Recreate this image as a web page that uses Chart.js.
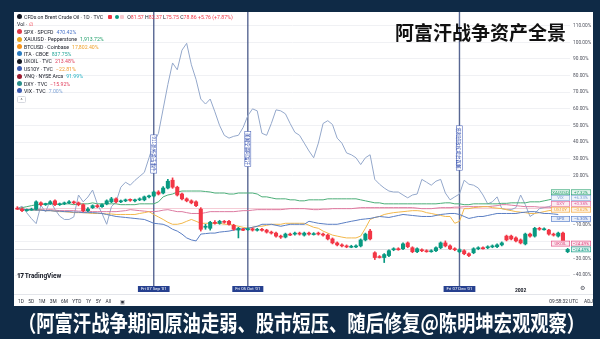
<!DOCTYPE html>
<html lang="zh">
<head>
<meta charset="utf-8">
<script src="https://cdn.jsdelivr.net/npm/chart.js@4.4.1/dist/chart.umd.min.js"></script>
<style>
 html,body{margin:0;padding:0;}
 body{width:600px;height:339px;overflow:hidden;background:#0f2a46;position:relative;font-family:Roboto,"Noto Sans",sans-serif;}
 #panel{position:absolute;left:14px;top:12px;width:579px;height:294px;background:#fff;overflow:hidden;}
 #chart{position:absolute;left:0;top:0;}
 #legend{position:absolute;left:3px;top:1.3px;font-size:5.2px;color:#131722;white-space:nowrap;}
 #legend .row{height:7.4px;display:flex;align-items:center;}
 #legend .ic{display:inline-block;width:5px;height:5px;border-radius:50%;margin-right:2px;flex:none;}
 #legend .v{margin-left:3px;}
 #legend .sq{display:inline-block;width:4px;height:4px;margin-left:5px;flex:none;border-radius:1px;}
 #legend .ohlc b{font-weight:400;color:#f23645;}
 #caret{position:absolute;left:3px;top:84px;width:7px;height:5px;border:0.6px solid #d6d9e0;border-radius:1.5px;font-size:5px;line-height:6px;text-align:center;color:#555;}
 #title{position:absolute;left:381px;top:9px;font-family:"Noto Sans CJK SC";font-weight:700;font-size:19px;line-height:22px;color:#111;white-space:nowrap;}
 #tvlogo{position:absolute;left:3px;top:260px;font-size:6.5px;font-weight:700;color:#131722;white-space:nowrap;}
 #gear{position:absolute;left:566px;top:273px;font-size:6px;line-height:6px;color:#50535e;}
 #toolbar{position:absolute;left:0;top:282px;width:579px;height:12px;border-top:0.6px solid #e3e5ea;font-size:4.8px;color:#2a2e39;}
 #toolbar .l{position:absolute;left:4px;top:3.5px;display:flex;gap:4.4px;}
 #toolbar .r{position:absolute;right:0;top:3.5px;display:flex;gap:6px;}
 #sub{position:absolute;left:18px;top:307px;font-family:"Noto Sans CJK SC";font-weight:700;font-size:22px;line-height:28px;color:#fff;white-space:nowrap;transform-origin:0 0;}
</style>
</head>
<body>
<div id="panel">
 <canvas id="chart" width="579" height="282"></canvas>
 <div id="legend">
  <div class="row"><i class="ic" style="background:#131722"></i><span>CFDs on Brent Crude Oil · 1D · TVC</span><i class="sq" style="background:#f23645"></i><i class="sq" style="background:#089981;border-radius:50%;margin-left:3px"></i><i class="sq" style="background:#f7c9cf;margin-left:1px"></i><span class="ohlc" style="margin-left:3px">O<b>81.57</b> H<b>82.37</b> L<b>75.75</b> C<b>78.86</b> <b>+5.76 (+7.87%)</b></span></div>
  <div class="row"><span>Vol ·</span><span style="color:#f23645;margin-left:2px">∅</span></div>
  <div class="row"><i class="ic" style="background:#e0394a"></i><span>SPX · SPCFD</span><span class="v" style="color:#4a74c9">470.42%</span></div>
  <div class="row"><i class="ic" style="background:#e8a620"></i><span>XAUUSD · Pepperstone</span><span class="v" style="color:#22a06b">1,913.72%</span></div>
  <div class="row"><i class="ic" style="background:#f7931a"></i><span>BTCUSD · Coinbase</span><span class="v" style="color:#f0a12a">17,802.40%</span></div>
  <div class="row"><i class="ic" style="background:#2b7cc0"></i><span>ITA · CBOE</span><span class="v" style="color:#26a69a">837.75%</span></div>
  <div class="row"><i class="ic" style="background:#131722"></i><span>UKOIL · TVC</span><span class="v" style="color:#e0405e">213.48%</span></div>
  <div class="row"><i class="ic" style="background:#3b5bb0"></i><span>US10Y · TVC</span><span class="v" style="color:#f09a2a">−22.81%</span></div>
  <div class="row"><i class="ic" style="background:#9b1b30"></i><span>VNQ · NYSE Arca</span><span class="v" style="color:#26b3c4">91.99%</span></div>
  <div class="row"><i class="ic" style="background:#2a8f8a"></i><span>DXY · TVC</span><span class="v" style="color:#e0405e">−15.92%</span></div>
  <div class="row"><i class="ic" style="background:#3b5bb0"></i><span>VIX · TVC</span><span class="v" style="color:#7fa3d6">7.00%</span></div>
 </div>
 <div id="caret">^</div>
 <div id="title">阿富汗战争资产全景</div>
 <div id="tvlogo"><span style="letter-spacing:-0.6px;font-weight:900">17</span> TradingView</div>
 <div id="gear">⚙</div>
 <div id="toolbar">
  <div class="l"><span>1D</span><span>5D</span><span>1M</span><span>3M</span><span>6M</span><span>YTD</span><span>1Y</span><span>5Y</span><span>All</span><span style="margin-left:5px">▣</span></div>
  <div class="r"><span>09:58:32 UTC</span><span>ADJ</span></div>
 </div>
</div>
<div id="sub">（阿富汗战争期间原油走弱、股市短压、随后修复@陈明坤宏观观察）</div>

<script>
// ---------- DATA (percent change from first bar) ----------
const startDate = '2001-07-27';
const barCount = 118;
const holidays = ['2001-08-27','2001-12-24','2001-12-25','2001-12-26','2001-12-31','2002-01-01'];

const opens = [0.6,0,-1.2,-0.6,-0.3,3.5,2.4,2.9,4.7,2.4,2.9,3.5,4.1,3.5,2.4,-1.2,0.6,1.8,1.2,2.9,
 4.1,5.9,4.1,4.7,5.3,4.7,5.3,5.3,7.1,7.6,10,9.4,12.4,17.1,12.9,8.8,5.9,4.7,4.1,0,
 -11.2,-11.8,-8.2,-8.8,-7.6,-7.6,-10,-12.9,-12.4,-12.4,-12.1,-12.9,-12.4,-12.9,-14.1,-14.7,-16.5,-17.1,-15.3,-15.3,
 -14.7,-15.9,-14.7,-15.3,-14.7,-15.3,-15.9,-18.2,-20.6,-21.8,-22.4,-22.9,-22.9,-22.4,-18.8,-13.5,-26.5,-28.8,-29.4,-28.2,
 -24.7,-24.1,-24.1,-20.6,-23.5,-25.9,-24.7,-25.3,-25.6,-25.3,-23.5,-20.6,-22.4,-24.1,-25.9,-25.3,-27.1,-26.5,-24.1,-23.5,
 -23.5,-22.9,-22.9,-21.8,-16.5,-16.5,-17.6,-18.8,-21.2,-15.3,-16.5,-11.8,-12.4,-12.9,-15.3,-16.5,-14.7,-25.9];
const closes = [0,-1.2,-0.6,-0.3,4.1,2.4,2.9,4.1,2.4,2.9,3.5,4.1,3.5,2.4,-1.2,0,1.8,1.2,2.4,4.7,
 5.9,4.1,4.7,5.3,5.0,5.3,5.9,7.1,7.6,10,8.8,12.4,16.5,12.9,8.2,5.9,4.7,3.5,1.8,-12.4,
 -10.6,-8.2,-8.8,-7.6,-8.2,-9.4,-12.4,-11.8,-12.6,-12.1,-12.9,-12.4,-12.9,-14.1,-14.7,-16.5,-17.1,-15.3,-15.6,-14.7,
 -15.3,-14.7,-15.3,-15.0,-15.3,-15.9,-18.2,-20.6,-21.8,-22.4,-22.9,-22.6,-22.4,-18.8,-15.3,-18.2,-29.4,-29.1,-27.6,-25.3,
 -24.1,-24.4,-21.2,-22.9,-25.9,-24.1,-25.3,-25.6,-25.3,-23.5,-20.6,-22.4,-24.1,-24.7,-24.7,-27.1,-28.2,-24.1,-23.5,-23.8,
 -22.9,-22.4,-21.8,-20.6,-18.8,-18.2,-19.4,-20.6,-15.3,-16.5,-11.8,-12.4,-12.1,-15.3,-15.9,-14.7,-20.6,-24.49];
const highs = [1.2,0.5,-0.2,0.3,4.7,4.1,3.3,4.7,5.3,3.4,4.0,4.8,4.6,4.0,2.9,0.6,2.3,2.4,2.9,5.3,
 6.8,6.5,5.2,5.8,5.9,5.8,6.5,7.6,8.2,10.6,10.8,13.2,17.6,18.5,13.5,9.4,6.5,5.3,4.7,0.6,
 -9.4,-7.6,-7.1,-7.0,-7.1,-7.0,-9.4,-11.2,-11.8,-11.5,-11.6,-11.8,-11.8,-12.4,-13.5,-14.1,-15.9,-14.7,-14.7,-14.1,
 -14.1,-14.1,-14.1,-14.4,-14.1,-14.7,-15.3,-17.6,-20.0,-21.2,-21.8,-22.0,-21.8,-18.2,-14.7,-12.4,-25.9,-28.2,-27.0,-24.7,
 -23.5,-23.5,-20.6,-20.0,-22.9,-23.5,-24.1,-24.7,-24.7,-22.9,-20.0,-19.4,-21.8,-23.5,-24.1,-24.7,-26.5,-23.5,-22.9,-22.9,
 -22.3,-21.8,-21.2,-20.0,-15.9,-15.9,-17.0,-18.2,-14.7,-14.7,-11.2,-11.2,-11.5,-12.4,-14.7,-14.1,-14.1,-23.9];
const lows = [-0.5,-1.8,-1.6,-1.0,-0.8,1.8,1.9,2.5,1.8,1.9,2.4,3.0,2.9,1.7,-1.9,-1.8,0.1,0.6,0.7,2.3,
 3.6,3.5,3.6,4.2,4.4,4.1,4.8,4.7,6.5,7.0,8.2,8.8,11.8,12.2,7.6,5.3,4.1,2.9,1.2,-13.5,
 -12.4,-12.9,-9.4,-9.4,-8.8,-10.0,-13.0,-17.6,-13.2,-13.0,-13.5,-13.5,-13.5,-14.7,-15.3,-17.1,-17.9,-17.6,-16.2,-15.9,
 -15.9,-16.5,-15.9,-15.9,-15.9,-16.5,-18.8,-21.2,-22.4,-23.0,-23.5,-23.5,-23.5,-23.0,-19.4,-18.8,-30.6,-29.7,-32.4,-28.8,
 -25.3,-25.0,-24.7,-23.5,-26.5,-26.5,-25.9,-26.2,-26.2,-25.9,-24.1,-23.0,-24.7,-25.3,-26.5,-27.7,-28.8,-27.1,-24.7,-24.4,
 -24.1,-23.5,-23.5,-22.4,-19.4,-18.8,-20.0,-21.2,-21.8,-17.1,-17.1,-13.0,-13.0,-15.9,-16.5,-17.1,-21.2,-26.5];

const vix = [0,1.5,-2.5,-6,-9,2,-2,5,-0.5,-4.5,-6.5,-6.5,-5,8.2,4.1,7,11.2,2.9,-2.9,-9.4,
 1.2,4.1,12.9,15.9,14.1,17,19.4,21.8,30.6,39.4,45.3,60,74.7,87.6,83.5,95.3,99.4,86.5,77.6,65.9,
 62.9,65.9,58.2,50,44.1,42.4,43.5,44.1,48.8,55.9,60,58.8,45.3,44.1,51.2,59.4,58.8,57,51.2,45.9,
 44.1,39.4,34.7,30.6,39.4,51.2,52.9,50.6,42.4,39.4,33.5,32.4,30.6,26.5,30.6,32.4,17.6,14.7,12.4,10.6,
 10,10,8.2,6.5,8.2,8.8,17.6,15.9,14.1,16.5,17.6,9.4,5.3,7.1,8.8,17.1,14.7,14.1,12.4,8.2,
 2.9,4.1,7.1,0,-0.6,-0.6,0.6,8.2,2.4,-4.7,-2.9,0,0.6,1.2,2.4,4.1,5.9,8.2];
const xauusd = [0,0.6,1.2,1.8,2.4,2.4,2.9,2.9,2.9,2.4,2.9,2.9,2.4,2.9,2.9,2.9,3.5,2.9,2.9,2.9,
 2.9,2.9,2.4,2.4,2.4,2.4,2.9,2.9,2.9,2.9,4.1,7.1,8.2,8.8,10,10.6,10.6,10.6,10.6,10.6,
 10.3,10,9.4,9.4,9.4,8.8,8.8,9.4,9.4,9.4,9.4,8.8,7.1,7.1,6.5,5.9,5.9,5.9,5.3,5.3,
 4.7,4.7,5.3,5.3,5.3,5.3,5.9,5.9,5.9,5.9,5.9,5.9,5.9,5.3,4.7,4.1,3.5,3.5,2.9,2.9,
 2.9,2.9,2.9,2.9,2.9,2.9,2.9,2.9,2.9,2.9,3.2,3.5,3.5,2.9,2.9,2.4,2.4,2.9,2.9,2.9,
 2.9,2.9,2.9,3.2,3.2,3.5,3.5,3.5,3.5,4.1,4.1,4.1,4.7,5.3,5.9,7.6,8.8,9.4];
const dxy = [0,-0.3,-0.6,-0.6,-0.6,-0.6,-0.9,-0.6,-0.9,-1.2,-1.2,-1.2,-1.2,-1.5,-1.5,-1.5,-1.8,-1.8,-1.8,-1.8,
 -1.8,-1.8,-1.5,-1.2,-0.6,-0.9,-1.2,-1.5,-1.8,-1.8,-1.5,-0.9,-0.6,-1.2,-1.8,-1.8,-2.4,-2.9,-2.9,-2.9,
 -2.4,-1.8,-1.8,-1.8,-1.8,-1.8,-1.8,-1.5,-1.2,-1.2,-0.9,-0.6,-0.6,-0.6,-0.6,-0.6,-0.6,-0.3,0,0,
 0,0,-0.3,-0.6,-0.6,-0.3,-0.3,0,0,0,0,0,0.3,0.6,0.6,0.6,0.6,0.6,0.6,0.6,
 0.6,0.6,0.6,0.6,0.6,0.3,0,0,0,0.3,0.6,0.6,0.6,0.9,0.9,1.2,1.2,1.2,1.2,1.2,
 1.2,1.5,1.8,2.4,2.4,2.1,1.8,1.5,1.2,1.2,1.2,0.9,0.9,0.9,0.6,0.6,0.6,0.6];
const us10y = [0,-0.3,-0.6,-0.6,-0.9,-0.9,-1.2,-1.2,-1.5,-1.8,-1.8,-2.1,-2.4,-2.4,-2.4,-2.6,-2.9,-2.9,-2.9,-3.2,
 -3.2,-3.5,-3.5,-3.5,-3.5,-3.5,-2.9,-2.4,-1.8,-3.5,-5.0,-6.5,-8.2,-9.4,-9.4,-8.8,-7.6,-6.5,-7.6,-8.8,
 -8.8,-8.8,-8.8,-8.8,-9.4,-9.4,-10.0,-10.6,-11.2,-11.8,-11.2,-10.6,-10.6,-10.0,-9.4,-9.4,-9.4,-8.8,-8.8,-8.8,
 -8.8,-8.8,-10.0,-11.2,-11.8,-13.5,-14.7,-15.9,-16.5,-17.1,-17.6,-17.6,-17.6,-16.5,-11.8,-6.5,-5.3,-4.7,-3.5,-2.9,
 -2.4,-2.1,-1.8,-1.5,-1.2,-1.2,-1.5,-2.4,-2.9,-3.5,-4.1,-4.7,-4.7,-8.8,-7.6,0,0,0.6,0.9,1.2,
 1.2,0.6,0.3,0,-0.6,-1.2,-1.8,-2.1,-2.4,-2.9,-2.9,-2.4,-1.8,-1.2,-0.9,-0.6,-0.6,-0.6];
const spx = [0,-0.3,-0.6,-0.6,-0.9,-0.9,-1.2,-1.2,-1.5,-1.5,-1.8,-1.8,-2.1,-2.1,-2.4,-2.4,-2.4,-2.6,-2.9,-3.5,
 -4.1,-4.7,-5.0,-5.3,-5.6,-5.9,-6.2,-6.5,-7.6,-8.8,-9.1,-9.4,-10.6,-12.4,-13.5,-15.3,-17.6,-18.8,-19.4,-15.3,
 -15.0,-14.7,-14.7,-14.1,-13.8,-13.5,-12.9,-12.4,-12.1,-11.8,-11.2,-10.6,-9.4,-9.4,-9.4,-10.0,-10.6,-10.0,-9.4,-9.4,
 -9.4,-9.4,-7.6,-8.2,-8.8,-9.1,-9.4,-9.4,-9.4,-8.8,-8.2,-7.6,-7.1,-6.5,-6.2,-5.9,-5.3,-4.7,-5.0,-5.3,
 -4.7,-4.1,-3.5,-3.8,-4.1,-4.4,-4.7,-4.7,-4.7,-4.1,-3.5,-3.2,-2.9,-2.9,-3.5,-4.7,-5.9,-5.3,-4.7,-4.7,
 -4.1,-3.5,-2.9,-2.9,-2.9,-2.9,-2.9,-2.4,-2.1,-1.8,-1.8,-2.4,-2.9,-2.9,-3.2,-3.5,null,null];

const tickValues = [-40,-30,-20,-10,0,10,20,30,40,50,60,70,80,90,100,110];
const eventDates = ['2001-09-07','2001-10-05','2001-12-07'];
const eventTexts = ['911恐怖袭击事件','美国空袭阿富汗','塔利班政权垮台瓦解'];
const tagNames = ['XAUUSD','VIX','DXY','US10Y','SPX','UKOIL',''];
const tagValues = [7.32,6.33,0.38,-0.62,-6.30,-24.49,-24.49];

// ---------- styles ----------
const UP = '#089981', DOWN = '#f23645';
const tagColors = ['#22a06b','#7fa3d6','#e0609a','#f0a030','#4a74c9','#e0407a','#089981'];
const Y_MIN = -44.7, Y_MAX = 114.7;

// trading-day categories (weekdays minus exchange holidays)
const dates = [];
{
  const d = new Date(startDate + 'T00:00:00Z');
  while (dates.length < barCount) {
    const iso = d.toISOString().slice(0, 10);
    const wd = d.getUTCDay();
    if (wd !== 0 && wd !== 6 && !holidays.includes(iso)) dates.push(iso);
    d.setUTCDate(d.getUTCDate() + 1);
  }
}
const candleColors = closes.map((c, i) => c >= opens[i] ? UP : DOWN);
const fmtPct = v => (v > 0 ? '+' : v < 0 ? '−' : '') + Math.abs(v).toFixed(2) + '%';
const fmtAxis = v => (v < 0 ? '−' : '') + Math.abs(v).toFixed(2) + '%';
const DAYS = ['Sun','Mon','Tue','Wed','Thu','Fri','Sat'];
const MONS = ['Jan','Feb','Mar','Apr','May','Jun','Jul','Aug','Sep','Oct','Nov','Dec'];
const fmtDate = s => { const d = new Date(s + 'T00:00:00Z'); return DAYS[d.getUTCDay()] + ' ' + String(d.getUTCDate()).padStart(2,'0') + ' ' + MONS[d.getUTCMonth()] + " '" + String(d.getUTCFullYear()).slice(2); };

const TAG_H = 5.6, TAG_GAP = 5.8;

const overlay = {
  id: 'overlay',
  afterLayout(chart) {
    const y = chart.scales.y;
    const items = tagValues.map((v, k) => ({ k, y: y.getPixelForValue(v) }));
    items.sort((a, b) => a.y - b.y || a.k - b.k);
    for (let j = items.length - 2; j >= 0; j--) {
      if (items[j].y > items[j + 1].y - TAG_GAP) items[j].y = items[j + 1].y - TAG_GAP;
    }
    chart.$tags = items;
  },
  beforeDatasetsDraw(chart) {
    const { ctx, chartArea: a, scales: { x, y } } = chart;
    ctx.save();
    const py = Math.round(y.getPixelForValue(closes[closes.length - 1])) + 0.5;
    ctx.strokeStyle = '#dcdde2'; ctx.lineWidth = 1;
    ctx.beginPath(); ctx.moveTo(a.left, py); ctx.lineTo(a.right, py); ctx.stroke();
    ctx.strokeStyle = 'rgba(70,86,135,0.9)'; ctx.lineWidth = 1.4;
    eventDates.forEach(d => {
      const px = x.getPixelForValue(dates.indexOf(d));
      ctx.beginPath(); ctx.moveTo(px, 0); ctx.lineTo(px, chart.height - 8); ctx.stroke();
    });
    ctx.restore();
  },
  afterDraw(chart) {
    const { ctx, chartArea: a, scales: { x, y } } = chart;
    ctx.save();
    const centers = [142, 137, 136];
    eventDates.forEach((d, k) => {
      const px = x.getPixelForValue(dates.indexOf(d));
      ctx.font = '4.6px "Noto Sans CJK SC"';
      const w = ctx.measureText(eventTexts[k]).width + 3;
      ctx.save();
      ctx.translate(px, centers[k]);
      ctx.rotate(Math.PI / 2);
      ctx.fillStyle = '#fff';
      ctx.fillRect(-w / 2, -3, w, 6);
      ctx.strokeStyle = '#3451b2'; ctx.lineWidth = 0.5;
      ctx.strokeRect(-w / 2, -3, w, 6);
      ctx.fillStyle = '#2945a8'; ctx.textAlign = 'center'; ctx.textBaseline = 'middle';
      ctx.fillText(eventTexts[k], 0, 0.3);
      ctx.restore();
      ctx.font = '4.3px Roboto';
      const t = fmtDate(d);
      const bw = ctx.measureText(t).width + 6;
      ctx.fillStyle = '#26408f';
      ctx.fillRect(px - bw / 2, chart.height - 8, bw, 6);
      ctx.fillStyle = '#fff'; ctx.textAlign = 'center'; ctx.textBaseline = 'middle';
      ctx.fillText(t, px, chart.height - 4.9);
    });
    ctx.font = '4.3px Roboto';
    ctx.textAlign = 'center'; ctx.textBaseline = 'middle';
    (chart.$tags || []).forEach(t => {
      const col = tagColors[t.k];
      const top = t.y - TAG_H / 2;
      const box = (bx, bw, txt) => {
        ctx.fillStyle = '#fff'; ctx.fillRect(bx, top, bw, TAG_H);
        ctx.fillStyle = col; ctx.globalAlpha = 0.12; ctx.fillRect(bx, top, bw, TAG_H); ctx.globalAlpha = 1;
        ctx.strokeStyle = col; ctx.lineWidth = 0.6; ctx.strokeRect(bx + 0.3, top + 0.3, bw - 0.6, TAG_H - 0.6);
        ctx.fillStyle = col; ctx.fillText(txt, bx + bw / 2, t.y + 0.2);
      };
      if (tagNames[t.k]) box(a.right - 19, 19, tagNames[t.k]);
      box(a.right + 1, 20, fmtPct(tagValues[t.k]));
    });
    ctx.restore();
  }
};

const lineDs = (label, data, color, order) => ({
  type: 'line', label, data, borderColor: color, borderWidth: 1, pointRadius: 0, tension: 0, order
});

new Chart(document.getElementById('chart'), {
  data: {
    labels: dates,
    datasets: [
      { type: 'bar', label: 'wick', data: lows.map((l, i) => [l, highs[i]]), backgroundColor: candleColors, barThickness: 1, grouped: false, order: 1 },
      { type: 'bar', label: 'body', data: opens.map((o, i) => [o, closes[i]]), backgroundColor: candleColors, barThickness: 3.4, minBarLength: 1, grouped: false, order: 0 },
      lineDs('DXY', dxy, '#dc7aa0', 5),
      lineDs('US10Y', us10y, '#f2b84b', 4),
      lineDs('SPX', spx, '#5a7ec3', 3),
      lineDs('XAUUSD', xauusd, '#4cae78', 6),
      lineDs('VIX', vix, '#94a8cb', 7)
    ]
  },
  options: {
    responsive: false,
    animation: false,
    devicePixelRatio: 1,
    layout: { padding: { left: 1, right: 0, top: 0, bottom: 0 } },
    plugins: { legend: { display: false }, tooltip: { enabled: false } },
    scales: {
      x: {
        type: 'category',
        offset: true,
        grid: { display: false },
        border: { display: false },
        afterFit: s => { s.height = 11; },
        ticks: {
          autoSkip: false, maxRotation: 0, padding: -3,
          font: { size: 5, weight: 'bold', family: 'Roboto' }, color: '#131722',
          callback: (v, i) => (i > 0 && dates[i].slice(0, 4) !== dates[i - 1].slice(0, 4)) ? dates[i].slice(0, 4) : ''
        }
      },
      y: {
        position: 'right',
        min: Y_MIN, max: Y_MAX,
        afterBuildTicks: s => { s.ticks = tickValues.map(v => ({ value: v })); },
        afterFit: s => { s.width = 23; },
        grid: { color: c => (c.tick && c.tick.value === 0) ? '#f5ccd6' : '#f0f1f4', drawTicks: false },
        border: { display: false },
        ticks: {
          padding: 3,
          font: { size: 4.8, family: 'Roboto' },
          color: c => {
            const ch = c.chart, tags = ch.$tags || [];
            const py = ch.scales.y.getPixelForValue(c.tick.value);
            return tags.some(t => Math.abs(t.y - py) < 5.5) ? 'rgba(0,0,0,0)' : '#50535e';
          },
          callback: v => fmtAxis(v)
        }
      }
    }
  },
  plugins: [overlay]
});

(document.fonts ? document.fonts.ready : Promise.resolve()).then(() => {
  const sub = document.getElementById('sub');
  const w = sub.scrollWidth;
  sub.style.transform = 'scaleX(' + (567 / w) + ')';
});
</script>
</body>
</html>
